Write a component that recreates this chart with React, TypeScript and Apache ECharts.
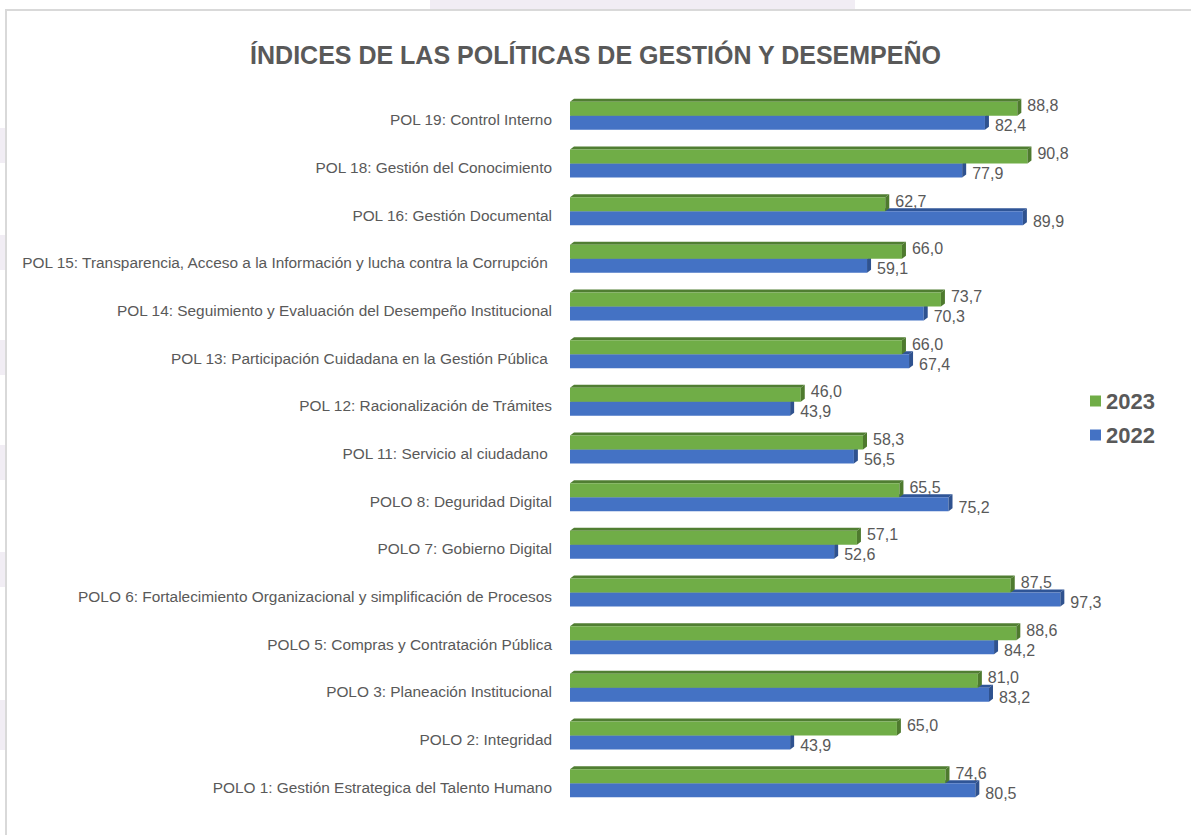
import React, { useEffect, useRef } from "react";
import * as echarts from "echarts";

const categories = [
  "POL 19: Control Interno",
  "POL 18: Gestión del Conocimiento",
  "POL 16: Gestión Documental",
  "POL 15: Transparencia, Acceso a la Información y lucha contra la Corrupción ",
  "POL 14: Seguimiento y Evaluación del Desempeño Institucional",
  "POL 13: Participación Cuidadana en la Gestión Pública ",
  "POL 12: Racionalización de Trámites",
  "POL 11: Servicio al ciudadano ",
  "POLO 8: Deguridad Digital",
  "POLO 7: Gobierno Digital",
  "POLO 6: Fortalecimiento Organizacional y simplificación de Procesos",
  "POLO 5: Compras y Contratación Pública",
  "POLO 3: Planeación Institucional",
  "POLO 2: Integridad",
  "POLO 1: Gestión Estrategica del Talento Humano",
];

const values2023 = [88.8, 90.8, 62.7, 66.0, 73.7, 66.0, 46.0, 58.3, 65.5, 57.1, 87.5, 88.6, 81.0, 65.0, 74.6];
const values2022 = [82.4, 77.9, 89.9, 59.1, 70.3, 67.4, 43.9, 56.5, 75.2, 52.6, 97.3, 84.2, 83.2, 43.9, 80.5];

const TEXT = "#595959";
const FONT = "'Liberation Sans', Arial, sans-serif";

function fmt(v: number) {
  return v.toFixed(1).replace(".", ",");
}

function make3D(front: string, top: string, side: string, upper: boolean) {
  return (params: any, api: any) => {
    const val = api.value(0);
    const cat = api.value(1);
    const start = api.coord([0, cat]);
    const end = api.coord([val, cat]);
    const h = 14;
    const dx = 4;
    const dy = 3;
    const y0 = upper ? start[1] - h : start[1];
    const x0 = start[0];
    const x1 = end[0] - 2;
    const children: any[] = [
      {
        type: "polygon",
        shape: { points: [[x0, y0], [x1, y0], [x1 + dx, y0 - dy], [x0 + dx, y0 - dy]] },
        style: { fill: top },
      },
      {
        type: "rect",
        shape: { x: x0, y: y0, width: x1 - x0, height: h },
        style: { fill: front },
      },
      {
        type: "polygon",
        shape: { points: [[x1, y0], [x1 + dx, y0 - dy], [x1 + dx, y0 + h - dy], [x1, y0 + h]] },
        style: { fill: side },
      },
      {
        type: "text",
        z2: 10,
        style: {
          x: x1 + dx + 6,
          y: y0 + h / 2 + (upper ? -3 : 3),
          text: fmt(val),
          fill: TEXT,
          fontSize: 16,
          fontFamily: FONT,
          verticalAlign: "middle",
          align: "left",
        },
      },
    ];
    return { type: "group", children };
  };
}

export default function App() {
  const ref = useRef<HTMLDivElement>(null);

  useEffect(() => {
    if (!ref.current) return;
    const chart = echarts.init(ref.current, undefined, { renderer: "svg" });
    const bands = [128, 235, 340, 445, 552, 700];
    chart.setOption({
      animation: false,
      backgroundColor: "#ffffff",
      title: {
        text: "ÍNDICES DE LAS POLÍTICAS DE GESTIÓN Y DESEMPEÑO",
        left: "center",
        top: 37,
        textStyle: { color: TEXT, fontSize: 25, fontWeight: "bold", fontFamily: FONT },
      },
      graphic: [
        { type: "rect", z: -10, shape: { x: 430, y: 0, width: 425, height: 10 }, style: { fill: "#f1edf4" } },
        ...bands.map((b) => ({
          type: "rect",
          z: -10,
          shape: { x: 0, y: b, width: 5, height: b === 700 ? 50 : 35 },
          style: { fill: "#f1edf4" },
        })),
        {
          type: "rect",
          z: -5,
          shape: { x: 6, y: 10, width: 1300, height: 900 },
          style: { fill: "none", stroke: "#d9d9d9", lineWidth: 2 },
        },
      ],
      legend: {
        orient: "vertical",
        left: 1085,
        top: 385,
        itemWidth: 11,
        itemHeight: 11,
        itemGap: 12,
        icon: "rect",
        data: ["2023", "2022"],
        textStyle: { color: TEXT, fontSize: 22, fontWeight: "bold", fontFamily: FONT },
      },
      grid: { left: 570, right: 115, top: 92, height: 715, containLabel: false },
      xAxis: { type: "value", min: 0, max: 100, show: false },
      yAxis: {
        type: "category",
        inverse: true,
        data: categories,
        axisLine: { show: false },
        axisTick: { show: false },
        splitLine: { show: false },
        axisLabel: {
          color: TEXT,
          fontSize: 15.4,
          fontFamily: FONT,
          margin: 18,
          verticalAlign: "top",
          lineHeight: 8,
        },
      },
      series: [
        {
          name: "2022",
          type: "custom",
          itemStyle: { color: "#4472c4" },
          renderItem: make3D("#4472c4", "#2f5597", "#2f528f", false),
          encode: { x: 0, y: 1 },
          data: values2022.map((v, i) => [v, i]),
        },
        {
          name: "2023",
          type: "custom",
          itemStyle: { color: "#70ad47" },
          renderItem: make3D("#70ad47", "#507e32", "#4e7a2e", true),
          encode: { x: 0, y: 1 },
          data: values2023.map((v, i) => [v, i]),
        },
      ],
    });
    return () => chart.dispose();
  }, []);

  return (
    <div
      ref={ref}
      style={{ position: "fixed", left: 0, top: 0, width: 1191, height: 835 }}
    />
  );
}
